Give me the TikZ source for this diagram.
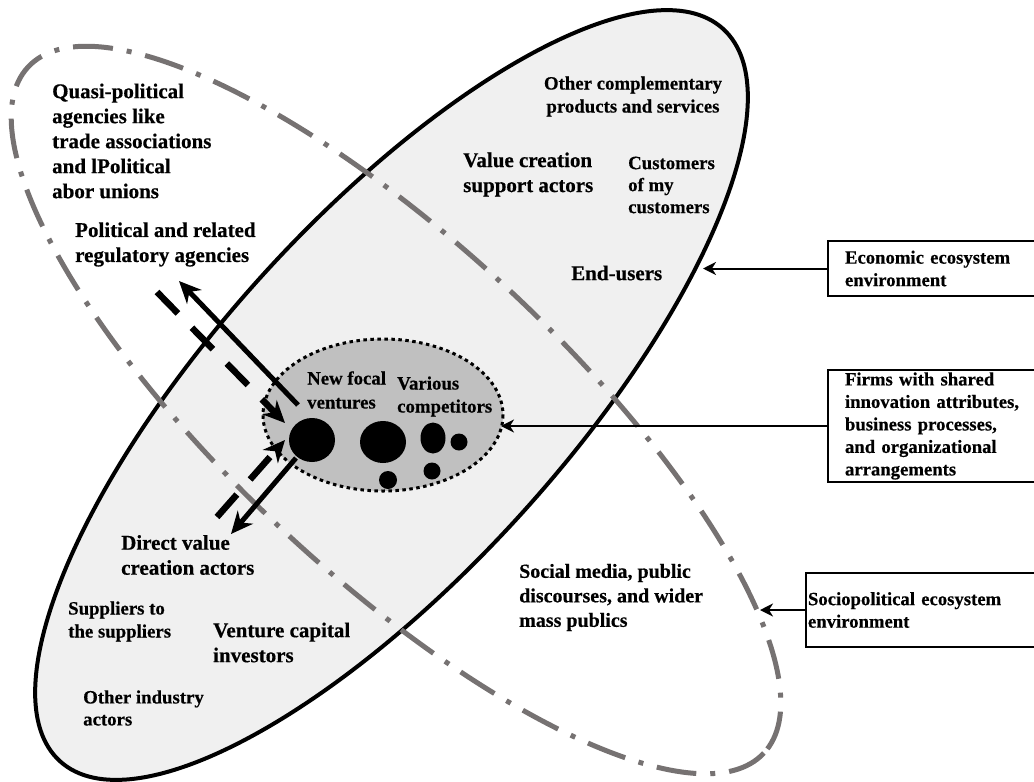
\documentclass[tikz,border=0pt]{standalone}
\usepackage{fontspec}
\setmainfont{Liberation Serif}[BoldFont={Liberation Serif Bold}, BoldFeatures={FakeBold=0.5}]
\usetikzlibrary{arrows.meta,shapes.geometric}
\definecolor{ecofill}{RGB}{240,240,240}
\definecolor{fieldfill}{RGB}{192,192,192}
\definecolor{sociogray}{RGB}{118,114,114}
\begin{document}
\begin{tikzpicture}[x=1pt,y=-1pt,
  lbl/.style={inner sep=0pt, anchor=west, align=left, font=\bfseries\fontsize{21}{25}\selectfont},
  lblsm/.style={lbl, font=\bfseries\fontsize{18.8}{23}\selectfont},
  envbox/.style={anchor=north west, align=left, inner ysep=0pt, outer sep=0pt,
    font=\bfseries\fontsize{18.7}{22.5}\selectfont},
  boxline/.style={line width=2pt},
  blob/.style={fill=black, ellipse, inner sep=0pt},
  thickarrow/.style={line width=5pt, -{Stealth[length=22pt,width=20pt,inset=7pt]}},
  dasharrow/.style={line width=6.5pt, dash pattern=on 30pt off 20pt, -{Stealth[length=22pt,width=20pt,inset=7pt]}},
  pointer/.style={line width=2pt, -{Stealth[length=13pt,width=13pt,inset=4pt]}}
]
\useasboundingbox (0,0) rectangle (1034,782);
\coordinate (pageR) at (1034,0);

% economic ecosystem (solid ellipse) and sociopolitical ecosystem (dash-dot ellipse)
\draw[line width=4pt, fill=ecofill, rotate around={47.85:(391.5,395)}]
  (391.5,395) ellipse [x radius=494, y radius=176];
\draw[line width=5pt, sociogray, dash pattern=on 40pt off 14pt on 5pt off 14pt,
  rotate around={-43:(396,410)}]
  (396,410) ellipse [x radius=503, y radius=165];

% field of firms
\draw[line width=3pt, fill=fieldfill, dash pattern=on 3.5pt off 3.5pt]
  (383,415) ellipse [x radius=120, y radius=76];

\node[blob, minimum width=46pt, minimum height=44pt] (focal) at (312,440) {};
\node[blob, minimum width=46pt, minimum height=42pt] (compA) at (383,442) {};
\node[blob, minimum width=25pt, minimum height=31pt] (compB) at (433,438) {};
\node[blob, minimum width=17pt, minimum height=17pt] (compC) at (459,442) {};
\node[blob, minimum width=17pt, minimum height=17pt] (compD) at (432,471) {};
\node[blob, minimum width=18pt, minimum height=18pt] (compE) at (388,480) {};

\node[lblsm, font=\bfseries\fontsize{18.8}{24}\selectfont] (newfocal) at (307,390) {New focal\\ventures};
\node[lblsm] (various) at (397,396.5) {Various\\competitors};

% actor labels
\node[lbl] (quasi) at (52,141) {Quasi-political\\agencies like\\trade associations\\and lPolitical\\abor unions};
\node[lbl] (polreg) at (75,244.5) {Political and related\\regulatory agencies};
\node[lbl, anchor=center, align=center, font=\bfseries\fontsize{18.8}{23}\selectfont] (compl) at (633,96.5) {Other complementary\\products and services};
\node[lbl] (vcsupport) at (463,174.5) {Value creation\\support actors};
\node[lblsm, font=\bfseries\fontsize{18.8}{22}\selectfont] (custcust) at (628,185) {Customers\\of my\\customers};
\node[lbl] (endusers) at (571,273) {End-users};
\node[lbl] (direct) at (121,555) {Direct value\\creation actors};
\node[lblsm] (supp) at (68,621.5) {Suppliers to\\the suppliers};
\node[lbl] (vc) at (213,642.5) {Venture capital\\investors};
\node[lblsm, font=\bfseries\fontsize{18.8}{22}\selectfont] (otherind) at (83,708) {Other industry\\actors};
\node[lbl, font=\bfseries\fontsize{20}{24.5}\selectfont] (social) at (519,597.5) {Social media, public\\discourses, and wider\\mass publics};

% influence arrows between the focal ventures and the two environments
\coordinate (upS) at (298,405);
\coordinate (upT) at (179,281);
\coordinate (inS) at (157,292);
\coordinate (inT) at (285,423);
\coordinate (dnS) at (296,458);
\coordinate (dnT) at (231,534);
\coordinate (in2S) at (217,517);
\coordinate (in2T) at (285,440);
\draw[thickarrow] (upS) -- (upT);
\draw[dasharrow] (inS) -- (inT);
\draw[thickarrow] (dnS) -- (dnT);
\draw[dasharrow] (in2S) -- (in2T);

% legend boxes, open on the right where they meet the page edge
\node[envbox, minimum height=55pt, inner xsep=17pt, text width=260pt] (econbox) at (828,241)
  {Economic ecosystem\\environment};
\node[envbox, minimum height=112pt, inner xsep=17pt, text width=260pt] (firmbox) at (828,370)
  {Firms with shared\\innovation attributes,\\business processes,\\and organizational\\arrangements};
\node[envbox, minimum height=74pt, inner xsep=2pt, text width=260pt] (sociobox) at (806,573)
  {Sociopolitical ecosystem\\environment};
\foreach \b in {econbox, firmbox, sociobox}
  \draw[boxline] (\b.north west -| pageR) -- (\b.north west) -- (\b.south west) -- (\b.south west -| pageR);

\coordinate (econtip) at (703,268.5);
\coordinate (firmtip) at (501,426);
\coordinate (sociotip) at (760,610);
\draw[pointer] (econbox.west) -- (econtip);
\draw[pointer] (firmbox.west) -- (firmtip);
\draw[pointer] (sociobox.west) -- (sociotip);
\end{tikzpicture}
\end{document}
